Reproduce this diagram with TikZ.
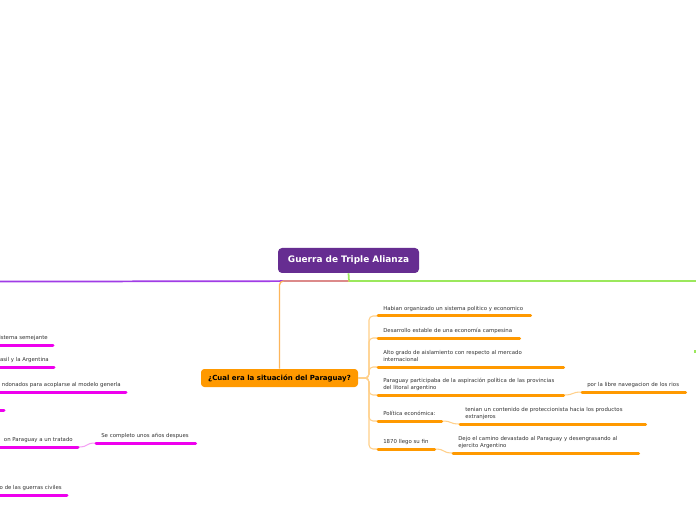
\documentclass[tikz,border=0pt]{standalone}
\usepackage{fontspec}
\setmainfont{DejaVu Sans}
\begin{document}
\begin{tikzpicture}[x=0.75pt,y=-0.75pt,
  rootbox/.style={draw=none,fill=rootc,rounded corners=3pt,minimum width=105.75pt,minimum height=18.75pt,
    text=white,font=\fontsize{6.7}{8}\selectfont\bfseries,inner sep=0pt},
  mainbox/.style={draw=none,fill=orangec,rounded corners=2.5pt,minimum width=117.75pt,minimum height=13.5pt,
    text=black,font=\fontsize{5.25}{6.5}\selectfont\bfseries,inner sep=0pt},
  topic/.style={anchor=south west,inner xsep=3.75pt,inner ysep=2.3pt,align=left,
    text=textc,font=\fontsize{4.05}{5.25}\selectfont},
  ltopic/.style={anchor=south east,inner xsep=3.75pt,inner ysep=2.3pt,align=left,
    text=textc,font=\fontsize{4.05}{5.25}\selectfont},
  oul/.style={draw=orangec,line width=2.25pt,line cap=round},
  mul/.style={draw=magc,line width=2.25pt,line cap=round},
  spine/.style={draw=spinec,line width=0.8pt,rounded corners=3pt},
  mspine/.style={draw=mspinec,line width=0.8pt},
]
\definecolor{rootc}{HTML}{662D91}
\definecolor{orangec}{HTML}{FF9900}
\definecolor{spinec}{HTML}{FFD08A}
\definecolor{magc}{HTML}{EE00EE}
\definecolor{mspinec}{HTML}{F5A0F5}
\definecolor{textc}{HTML}{333333}
\definecolor{greenc}{HTML}{9BE85C}
\definecolor{purplec}{HTML}{A03CE6}
\definecolor{obranch}{HTML}{FDB55A}
\useasboundingbox (0,0) rectangle (696,520);
\clip (0,0) rectangle (696,520);
\fill[white] (0,0) rectangle (696,520);

% root and main branch
\node[rootbox] (root) at (348.5,260.5) {Guerra de Triple Alianza};
\node[mainbox] (main) at (279.5,378) {¿Cual era la situación del Paraguay?};

\coordinate (j) at (349,281);
\coordinate (rgt) at (700,281);
\coordinate (lft) at (-5,281.6);
\draw[purplec,line width=1.3pt] (j) -- (lft);
\draw[greenc,line width=1.3pt] (root.south) -- (j) -- (rgt);
\draw[obranch,line width=1pt,rounded corners=3pt] (j) -| (main.north);

% right topics
\node[topic,text width=106.5pt] (c1) at (378,316) {Habian organizado un sistema politico y economico\strut};
\node[topic,text width=98.25pt] (c2) at (378,338) {Desarrollo estable de una economía campesina\strut};
\node[topic,text width=131.25pt] (c3) at (378,367) {Alto grado de aislamiento con respecto al mercado\\internacional\strut};
\node[topic,text width=131.25pt] (c4) at (378,395) {Paraguay participaba de la aspiración política de las provincias\\del litoral argentino\strut};
\node[topic,text width=39.75pt] (c5) at (378,421) {Política económica:\strut};
\node[topic,text width=34.5pt] (c6) at (378,449) {1870 llego su fin\strut};

\node[topic,text width=69.75pt] (s4) at (582,392) {por la libre navegacion de los rios\strut};
\node[topic,text width=131.25pt] (s5) at (460,424) {tenian un contenido de proteccionista hacia los productos\\extranjeros\strut};
\node[topic,text width=131.25pt] (s6) at (453,453) {Dejo el camino devastado al Paraguay y desengrasando al\\ejercito Argentino\strut};

\coordinate (sp) at (369,378);
\foreach \c in {c1,c2,c3,c4,c5,c6}{
  \draw[spine] (main.east) -- (sp) |- (\c.south west);
}
\draw[spine] (c4.south east) .. controls +(12,0) and +(-12,0) .. (s4.south west);
\draw[spine] (c5.south east) .. controls +(12,0) and +(-12,0) .. (s5.south west);
\draw[spine] (c6.south east) .. controls +(12,0) and +(-12,0) .. (s6.south west);
\foreach \c in {c1,c2,c3,c4,c5,c6,s4,s5,s6}{
  \draw[oul] (\c.south west) -- (\c.south east);
}

% left (magenta) topics, cut by the page edge
\node[ltopic] (l1) at (53,345) {istema semejante\strut};
\node[ltopic] (l2) at (54,367) {asil y la Argentina\strut};
\node[ltopic] (l3) at (126,392) {ndonados para acoplarse al modelo generla\strut};
\node[ltopic] (l5) at (78,447) {on Paraguay a un tratado\strut};
\node[ltopic] (l6) at (67,495) {o de las guerras civiles\strut};
\node[topic,text width=66.75pt] (ls5) at (96,443) {Se completo unos años despues\strut};
\coordinate (l4a) at (-10,410);
\coordinate (l4b) at (4,410);
\draw[mspine] (l5.south east) .. controls +(12,0) and +(-12,0) .. (ls5.south west);
\foreach \c in {l1,l2,l3,l5,l6}{
  \draw[mul] (\c.south east) -- (\c.south east -| l4a);
}
\draw[mul] (ls5.south west) -- (ls5.south east);
\draw[mul] (l4a) -- (l4b);

% green stub at the right edge
\coordinate (gdot) at (695,351);
\fill[greenc] (gdot) ++(-1.5,-1.5) rectangle ++(3,3);
\end{tikzpicture}
\end{document}
